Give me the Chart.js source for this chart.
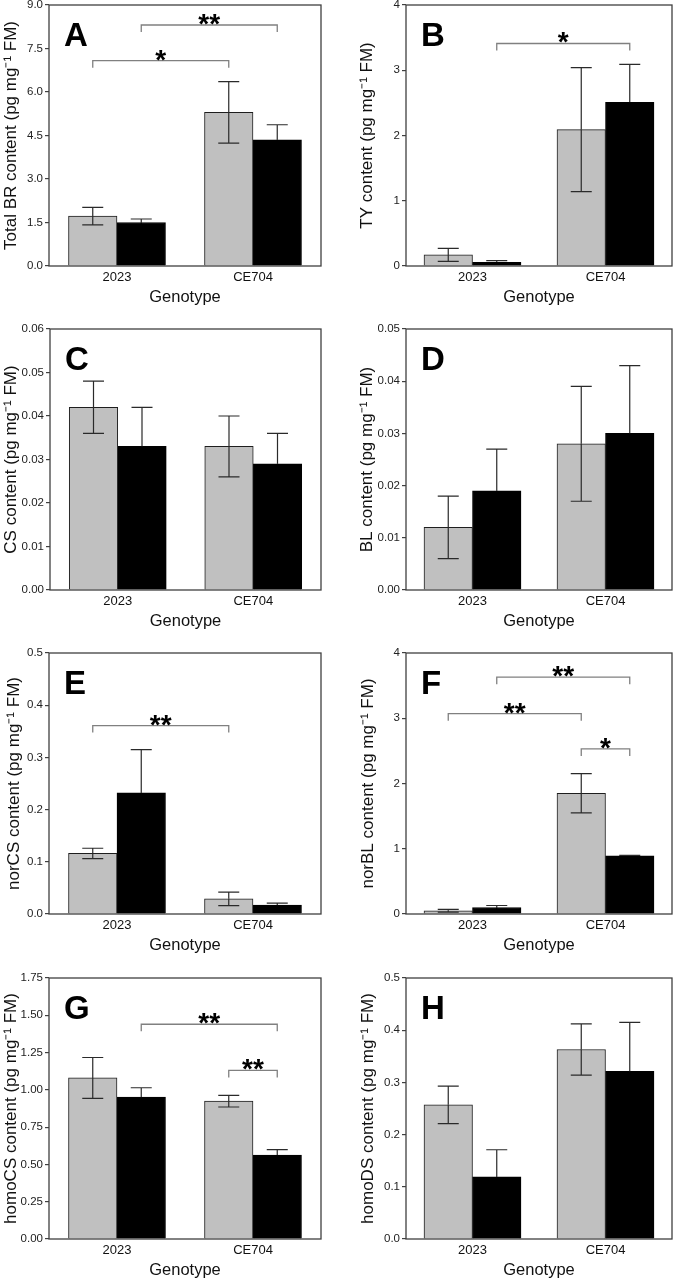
<!DOCTYPE html>
<html>
<head>
<meta charset="utf-8">
<script src="https://cdn.jsdelivr.net/npm/chart.js@4"></script>
<style>
html, body { margin: 0; padding: 0; background: #fff; }
body { width: 677px; height: 1279px; position: relative; overflow: hidden; }
.panel { position: absolute; }
</style>
</head>
<body>
<script>
// ---- data ----
const genotypes = ['2023', 'CE704'];
const panelLetters = ['A', 'B', 'C', 'D', 'E', 'F', 'G', 'H'];
const yTitles = [
    'Total BR content (pg mg⁻¹ FM)',
    'TY content (pg mg⁻¹ FM)',
    'CS content (pg mg⁻¹ FM)',
    'BL content (pg mg⁻¹ FM)',
    'norCS content (pg mg⁻¹ FM)',
    'norBL content (pg mg⁻¹ FM)',
    'homoCS content (pg mg⁻¹ FM)',
    'homoDS content (pg mg⁻¹ FM)'
];
const yMax = [9, 4, 0.06, 0.05, 0.5, 4, 1.75, 0.5];
const yStep = [1.5, 1, 0.01, 0.01, 0.1, 1, 0.25, 0.1];
const yDecimals = [1, 0, 2, 2, 1, 0, 2, 1];

// grey bars (first series) and black bars (second series), [2023, CE704]
const grayMean = [[1.72, 5.30], [0.17, 2.09], [0.042, 0.033], [0.012, 0.028], [0.116, 0.029], [0.05, 1.85], [1.08, 0.924], [0.257, 0.363]];
const grayErr = [[0.30, 1.06], [0.10, 0.95], [0.006, 0.007], [0.006, 0.011], [0.010, 0.013], [0.02, 0.30], [0.137, 0.039], [0.036, 0.049]];
const blackMean = [[1.50, 4.35], [0.056, 2.51], [0.033, 0.029], [0.019, 0.030], [0.232, 0.017], [0.10, 0.89], [0.951, 0.563], [0.119, 0.321]];
const blackErr = [[0.12, 0.52], [0.025, 0.58], [0.009, 0.007], [0.008, 0.013], [0.083, 0.004], [0.03, 0.01], [0.063, 0.036], [0.052, 0.094]];

// significance brackets: [from bar, to bar, y value, label]
// bar order: 0 = 2023 grey, 1 = 2023 black, 2 = CE704 grey, 3 = CE704 black
const brackets = [
    [[0, 2, 7.08, '*'], [1, 3, 8.31, '**']],
    [[1, 3, 3.41, '*']],
    [],
    [],
    [[0, 2, 0.361, '**']],
    [[1, 3, 3.63, '**'], [0, 2, 3.07, '**'], [2, 3, 2.53, '*']],
    [[1, 3, 1.44, '**'], [2, 3, 1.13, '**']],
    []
];

// ---- layout ----
const colLeft = [0, 338];
const colWidth = [338, 339];
const plotTop = [5, 329, 653, 978];
const plotH = 261;
const plotLeft = [49, 406, 50, 406, 49, 406, 49, 406];
const plotRight = [321, 672];
const yTitlePad = [1, 19, 1.3, 19, 4, 20, 1.3, 20];
const PAD_TOP = 12, X_AXIS_H = 42;

const FONT = "'Liberation Sans', Arial, sans-serif";
Chart.defaults.font.family = FONT;
Chart.defaults.color = '#1a1a1a';

const panelMarks = {
    id: 'panelMarks',
    afterDatasetsDraw(chart, args, opts) {
        const ctx = chart.ctx;
        const y = chart.scales.y;
        const area = chart.chartArea;
        const p = opts.panel;
        ctx.save();

        // error bars (the part inside a black bar stays black)
        ctx.lineWidth = 1.2;
        chart.data.datasets.forEach((ds, di) => {
            chart.getDatasetMeta(di).data.forEach((bar, k) => {
                const m = ds.data[k], e = ds.errors[k];
                const ym = y.getPixelForValue(m);
                const yt = y.getPixelForValue(m + e);
                const yb = y.getPixelForValue(Math.max(m - e, 0));
                const cap = 10.5;
                ctx.strokeStyle = '#2a2a2a';
                ctx.beginPath();
                ctx.moveTo(bar.x, yt); ctx.lineTo(bar.x, ym);
                ctx.moveTo(bar.x - cap, yt); ctx.lineTo(bar.x + cap, yt);
                ctx.stroke();
                ctx.strokeStyle = ds.backgroundColor === '#000000' ? '#000000' : '#2a2a2a';
                ctx.beginPath();
                ctx.moveTo(bar.x, ym); ctx.lineTo(bar.x, yb);
                ctx.moveTo(bar.x - cap, yb); ctx.lineTo(bar.x + cap, yb);
                ctx.stroke();
            });
        });

        // frame
        ctx.strokeStyle = '#404040';
        ctx.lineWidth = 1.3;
        ctx.strokeRect(area.left, area.top, area.right - area.left, area.bottom - area.top);

        // brackets
        const m0 = chart.getDatasetMeta(0).data, m1 = chart.getDatasetMeta(1).data;
        const bars = [m0[0], m1[0], m0[1], m1[1]];
        brackets[p].forEach(([a, b, v, label]) => {
            const x1 = bars[a].x, x2 = bars[b].x, ly = y.getPixelForValue(v);
            ctx.strokeStyle = '#808080';
            ctx.lineWidth = 1.3;
            ctx.beginPath();
            ctx.moveTo(x1, ly + 7); ctx.lineTo(x1, ly); ctx.lineTo(x2, ly); ctx.lineTo(x2, ly + 7);
            ctx.stroke();
            ctx.fillStyle = '#000';
            ctx.font = 'bold 28px ' + FONT;
            ctx.textAlign = 'center';
            ctx.textBaseline = 'alphabetic';
            ctx.fillText(label, (x1 + x2) / 2, ly + 8);
        });

        // panel letter
        ctx.fillStyle = '#000';
        ctx.font = 'bold 33px ' + FONT;
        ctx.textAlign = 'left';
        ctx.textBaseline = 'alphabetic';
        ctx.fillText(panelLetters[p], area.left + 15, area.top + 41);

        ctx.restore();
    }
};

for (let i = 0; i < 8; i++) {
    const col = i % 2, row = Math.floor(i / 2);
    const div = document.createElement('div');
    div.className = 'panel';
    div.style.left = colLeft[col] + 'px';
    div.style.top = (plotTop[row] - PAD_TOP) + 'px';
    div.style.width = colWidth[col] + 'px';
    div.style.height = (PAD_TOP + plotH + X_AXIS_H) + 'px';
    const canvas = document.createElement('canvas');
    div.appendChild(canvas);
    document.body.appendChild(div);

    new Chart(canvas, {
        type: 'bar',
        data: {
            labels: genotypes,
            datasets: [
                {
                    label: 'grey',
                    data: grayMean[i],
                    errors: grayErr[i],
                    backgroundColor: '#c0c0c0',
                    borderColor: '#1e1e1e',
                    borderWidth: 1,
                    barThickness: 48.5
                },
                {
                    label: 'black',
                    data: blackMean[i],
                    errors: blackErr[i],
                    backgroundColor: '#000000',
                    borderColor: '#000000',
                    borderWidth: 1,
                    barThickness: 48.5
                }
            ]
        },
        options: {
            responsive: true,
            maintainAspectRatio: false,
            animation: false,
            devicePixelRatio: 1,
            layout: {
                padding: {
                    top: PAD_TOP,
                    left: 0,
                    bottom: 0,
                    right: colLeft[col] + colWidth[col] - plotRight[col]
                }
            },
            plugins: {
                legend: { display: false },
                tooltip: { enabled: false },
                panelMarks: { panel: i }
            },
            scales: {
                x: {
                    offset: true,
                    grid: { display: false, drawTicks: false },
                    border: { display: false },
                    ticks: { padding: 4, font: { size: 13 }, color: '#111' },
                    title: {
                        display: true,
                        text: 'Genotype',
                        font: { size: 16.5 },
                        color: '#111',
                        padding: { top: 0, bottom: 1 }
                    },
                    afterFit: s => { s.height = X_AXIS_H; }
                },
                y: {
                    min: 0,
                    max: yMax[i],
                    ticks: {
                        stepSize: yStep[i],
                        padding: 2,
                        font: { size: 11.5 },
                        color: '#222',
                        callback: v => Number(v).toFixed(yDecimals[i])
                    },
                    grid: { drawOnChartArea: false, drawTicks: true, tickLength: 4, color: '#404040', lineWidth: 1.2 },
                    border: { display: false },
                    title: {
                        display: true,
                        text: yTitles[i],
                        font: { size: 17 },
                        color: '#111',
                        padding: { top: yTitlePad[i], bottom: 0 }
                    },
                    afterFit: s => { s.width = plotLeft[i] - colLeft[col]; }
                }
            }
        },
        plugins: [panelMarks]
    });
}
</script>
</body>
</html>
